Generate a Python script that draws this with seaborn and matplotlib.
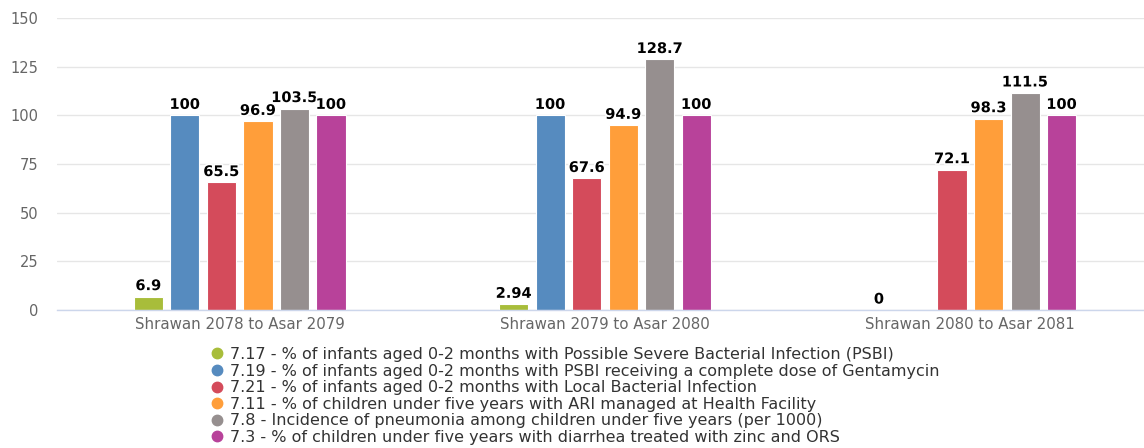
import numpy as np
import pandas as pd
import matplotlib
matplotlib.use("Agg")
import matplotlib.pyplot as plt
import matplotlib.patheffects as pe
from matplotlib.lines import Line2D
import seaborn as sns

periods = ["Shrawan 2078 to Asar 2079", "Shrawan 2079 to Asar 2080", "Shrawan 2080 to Asar 2081"]

indicators = [
    "7.17 - % of infants aged 0-2 months with Possible Severe Bacterial Infection (PSBI)",
    "7.19 - % of infants aged 0-2 months with PSBI receiving a complete dose of Gentamycin",
    "7.21 - % of infants aged 0-2 months with Local Bacterial Infection",
    "7.11 - % of children under five years with ARI managed at Health Facility",
    "7.8 - Incidence of pneumonia among children under five years (per 1000)",
    "7.3 - % of children under five years with diarrhea treated with zinc and ORS",
]

psbi = [6.9, 2.94, 0]
gentamycin = [100, 100, np.nan]
local_infection = [65.5, 67.6, 72.1]
ari_managed = [96.9, 94.9, 98.3]
pneumonia_incidence = [103.5, 128.7, 111.5]
diarrhea_zinc_ors = [100, 100, 100]

colors = ["#a8bd3a", "#568bbf", "#d44b5b", "#ff9e3a", "#968f8f", "#b8429a"]

series = [psbi, gentamycin, local_infection, ari_managed, pneumonia_incidence, diarrhea_zinc_ors]
rows = []
for name, vals in zip(indicators, series):
    for p, v in zip(periods, vals):
        rows.append({"period": p, "indicator": name, "value": v})
df = pd.DataFrame(rows)

sns.set_theme(style="white")
plt.rcParams["font.family"] = ["DejaVu Sans"]

fig = plt.figure(figsize=(11.44, 4.48), dpi=100)
ax = fig.add_axes([57 / 1144, 1 - 310 / 448, 1096 / 1144, 292 / 448])

sns.barplot(data=df, x="period", y="value", hue="indicator", order=periods,
            hue_order=indicators, palette=colors, width=0.6, gap=0.2,
            edgecolor="white", linewidth=0.8, saturation=1, legend=False, ax=ax,
            errorbar=None)

ax.set_xlim(-0.5, 2.5)
ax.set_ylim(0, 150)
ax.set_yticks([0, 25, 50, 75, 100, 125, 150])
ax.yaxis.grid(True, color="#e6e6e6", linewidth=1)
ax.set_axisbelow(True)
ax.set_xlabel("")
ax.set_ylabel("")

for side in ["top", "right", "left"]:
    ax.spines[side].set_visible(False)
ax.spines["bottom"].set_color("#ccd6eb")
ax.spines["bottom"].set_linewidth(1)

ax.tick_params(axis="y", length=0, labelsize=10.5, labelcolor="#666666", pad=13.5)
ax.tick_params(axis="x", length=0, labelsize=10.8, labelcolor="#666666", pad=5)
# boundary ticks between categories
ax.set_xticks([-0.5, 0.5, 1.5], minor=True)
ax.tick_params(axis="x", which="minor", length=10, color="#ccd6eb", width=1, direction="out")

# value labels above each drawn bar
outline = [pe.withStroke(linewidth=2.5, foreground="white")]
for container in ax.containers:
    for bar in container:
        if bar is None:
            continue
        h = bar.get_height()
        if np.isnan(h):
            continue
        ax.annotate(f"{h:g}", (bar.get_x() + bar.get_width() / 2, h),
                    xytext=(0, 2.5), textcoords="offset points", ha="center", va="bottom",
                    fontsize=10.5, fontweight="bold", color="black", path_effects=outline)

marker_handles = [Line2D([], [], marker="o", linestyle="", markersize=7.5,
                         markerfacecolor=c, markeredgecolor=c) for c in colors]
fig.legend(marker_handles, indicators, loc="upper left", bbox_to_anchor=(210 / 1144, 1 - 347 / 448),
           frameon=False, prop={"family": "DejaVu Sans", "size": 11.5},
           handletextpad=0.35, labelspacing=0.1,
           handlelength=0.9, borderaxespad=0, borderpad=0, labelcolor="#333333")

fig.savefig("out.png", dpi=100)
